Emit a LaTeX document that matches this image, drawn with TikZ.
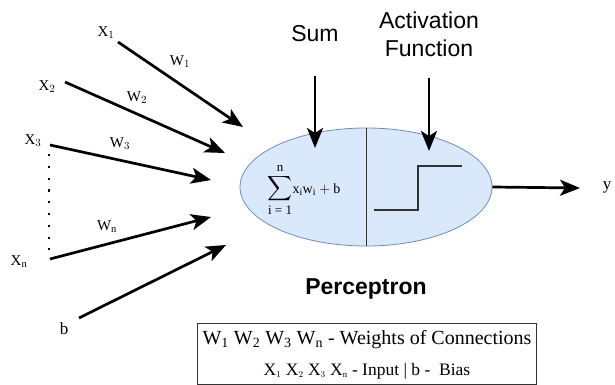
\documentclass[tikz,border=0pt]{standalone}
\usepackage{amsmath}
\usepackage{fontspec}
\setmainfont{Liberation Serif}
\newfontfamily\arialf{Liberation Sans}
\usetikzlibrary{arrows.meta,shapes.geometric}
\definecolor{ellfill}{HTML}{DAE8FC}
\definecolor{elldraw}{HTML}{6C8EBF}
\newcommand{\limtxt}[1]{\mbox{\fontsize{13}{13}\selectfont #1}}
\tikzset{
  arr/.style={line width=2.7pt,-{Stealth[length=20pt,width=16pt,inset=5pt]}},
  lbl/.style={inner sep=0pt,font=\fontsize{15}{17}\selectfont},
  hd/.style={inner sep=0pt,font=\arialf\fontsize{23}{28}\selectfont,align=center},
}
\begin{document}
\begin{tikzpicture}[x=1pt,y=-1pt]
\useasboundingbox (0,0) rectangle (615,385);
% ellipse
\node[draw=elldraw,fill=ellfill,line width=0.8pt,ellipse,minimum width=252pt,minimum height=118pt,inner sep=0pt] (ell) at (366,187) {};
\draw[line width=1pt,black!80] (ell.north) -- (ell.south);
% labels
\node[lbl] (x1) at (106,33) {X$_1$};
\node[lbl] (w1) at (180,62) {W$_1$};
\node[lbl] (x2) at (47,87) {X$_2$};
\node[lbl] (w2) at (137,98) {W$_2$};
\node[lbl] (x3) at (33,141) {X$_3$};
\node[lbl] (w3) at (120,144) {W$_3$};
\node[lbl] (wn) at (107,227) {W$_{\mathrm{n}}$};
\node[lbl] (xn) at (19,262) {X$_{\mathrm{n}}$};
\node[lbl,font=\fontsize{17}{19}\selectfont] (b) at (64,329) {b};
\node[inner sep=0pt,font=\fontsize{17}{19}\selectfont] (y) at (607,187) {y};
% coordinates
\coordinate (s1) at (118,42); \coordinate (e1) at (243,127);
\coordinate (s2) at (65,82);  \coordinate (e2) at (225,153);
\coordinate (s3) at (50,145); \coordinate (e3) at (211,180);
\coordinate (sn) at (50,259); \coordinate (en) at (211,217);
\coordinate (sb) at (79,318); \coordinate (eb) at (226,245);
\coordinate (d1) at (49,154); \coordinate (d2) at (49,250);
\draw[arr] (s1) -- (e1);
\draw[arr] (s2) -- (e2);
\draw[arr] (s3) -- (e3);
\draw[arr] (sn) -- (en);
\draw[arr] (sb) -- (eb);
\draw[line width=2.2pt,dash pattern=on 2.2pt off 9.6pt] (d1) -- (d2);
% headings
\node[hd] (sum) at (315,34) {Sum};
\node[hd] (act) at (429,34) {Activation\\Function};
\coordinate (sa) at (315,76); \coordinate (sae) at (315,148);
\coordinate (aa) at (429,78); \coordinate (aae) at (429,151);
\draw[arr] (sa) -- (sae);
\draw[arr] (aa) -- (aae);
% output
\coordinate (oe) at (580,188);
\draw[arr] (ell.east) -- (oe);
% formula
\node[inner sep=0pt] (f) at (304,190) {{\fontsize{16}{18}\selectfont$\displaystyle\sum_{\limtxt{i = 1}}^{\limtxt{n}}$}{\fontsize{14}{16}\selectfont$\mathrm{x_i w_i + b}$}};
% step
\coordinate (p1) at (374,210); \coordinate (p2) at (418,210);
\coordinate (p3) at (418,166); \coordinate (p4) at (462,166);
\draw[line width=1.3pt,black!80] (p1) -- (p2) -- (p3) -- (p4);
% title
\node[hd,font=\arialf\bfseries\fontsize{23}{28}\selectfont] (per) at (366,289) {Perceptron};
% legend box
\draw[line width=0.9pt,black!80] (197,323) rectangle (536,384);
\node[inner sep=0pt,font=\fontsize{20}{22}\selectfont] (l1) at (367,340) {W$_{\mathrm{1}}$ W$_{\mathrm{2}}$ W$_{\mathrm{3}}$ W$_{\mathrm{n}}$ - Weights of Connections};
\node[inner sep=0pt,font=\fontsize{17.5}{19}\selectfont] (l2) at (367,371) {X$_{\scriptscriptstyle 1}$ X$_{\scriptscriptstyle 2}$ X$_{\scriptscriptstyle 3}$ X$_{\scriptscriptstyle\mathrm{n}}$ - Input | b -\ \ Bias};
\end{tikzpicture}
\end{document}
